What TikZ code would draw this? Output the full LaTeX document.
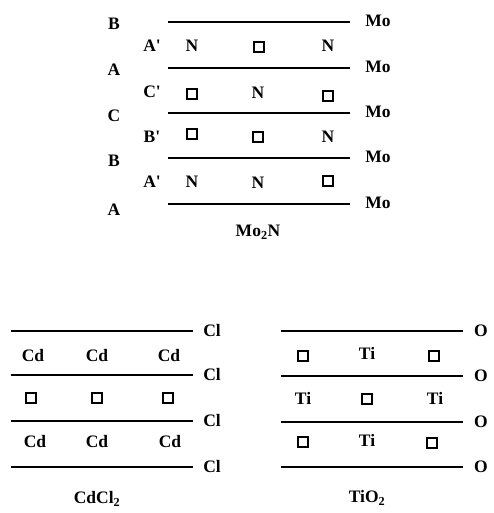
\documentclass[tikz,border=0pt]{standalone}
\usepackage{fontspec}
\setmainfont{Liberation Serif}
\newcommand{\pr}{\textquotesingle}
\begin{document}
\begin{tikzpicture}[x=1pt,y=-1pt,
  lbl/.style={font=\fontsize{17.5}{19}\selectfont\bfseries, inner sep=0pt, anchor=center},
  vac/.style={draw, line width=2pt, minimum size=10.5pt, inner sep=0pt},
  layer/.style={line width=2pt}]
\useasboundingbox (0,0) rectangle (493,513);
% ---------- Mo2N ----------
\foreach \y/\n in {22/1,68/2,113/3,158/4,204/5}{
  \coordinate (ma\n) at (168,\y);
  \coordinate (mb\n) at (350,\y);
  \draw[layer] (ma\n) -- (mb\n);
  \node[lbl] (mo\n) at (378,\y-1) {Mo};
}
\node[lbl] (s1) at (114,24) {B};
\node[lbl] (s2) at (114,70) {A};
\node[lbl] (s3) at (114,116) {C};
\node[lbl] (s4) at (114,161) {B};
\node[lbl] (s5) at (114,210) {A};
\node[lbl] (p1) at (152,46) {A\pr};
\node[lbl] (p2) at (152,92) {C\pr};
\node[lbl] (p3) at (152,137) {B\pr};
\node[lbl] (p4) at (152,182) {A\pr};
% row 1
\node[lbl] (r11) at (192,46) {N};
\node[vac] (r12) at (259,47) {};
\node[lbl] (r13) at (328,46) {N};
% row 2
\node[vac] (r21) at (192,94) {};
\node[lbl] (r22) at (258,93) {N};
\node[vac] (r23) at (328,96) {};
% row 3
\node[vac] (r31) at (192,134) {};
\node[vac] (r32) at (258,137) {};
\node[lbl] (r33) at (328,137) {N};
% row 4
\node[lbl] (r41) at (192,182) {N};
\node[lbl] (r42) at (258,183) {N};
\node[vac] (r43) at (328,181) {};
\node[lbl] (t1) at (258,232) {Mo\textsubscript{2}N};
% ---------- CdCl2 ----------
\foreach \y/\n in {331/1,375/2,421/3,467/4}{
  \coordinate (ca\n) at (11,\y);
  \coordinate (cb\n) at (193,\y);
  \draw[layer] (ca\n) -- (cb\n);
  \node[lbl] (cl\n) at (212,\y) {Cl};
}
\node[lbl] (c11) at (33,356) {Cd};
\node[lbl] (c12) at (97,356) {Cd};
\node[lbl] (c13) at (169,356) {Cd};
\node[vac] (c21) at (31,398) {};
\node[vac] (c22) at (97,398) {};
\node[vac] (c23) at (168,398) {};
\node[lbl] (c31) at (35,442) {Cd};
\node[lbl] (c32) at (97,442) {Cd};
\node[lbl] (c33) at (170,442) {Cd};
\node[lbl] (t2) at (97,499) {CdCl\textsubscript{2}};
% ---------- TiO2 ----------
\foreach \y/\n in {331/1,376/2,422/3,467/4}{
  \coordinate (ta\n) at (281,\y);
  \coordinate (tb\n) at (463,\y);
  \draw[layer] (ta\n) -- (tb\n);
  \node[lbl] (o\n) at (481,\y) {O};
}
\node[vac] (d11) at (303,356) {};
\node[lbl] (d12) at (367,353) {Ti};
\node[vac] (d13) at (434,356) {};
\node[lbl] (d21) at (303,398) {Ti};
\node[vac] (d22) at (367,399) {};
\node[lbl] (d23) at (435,398) {Ti};
\node[vac] (d31) at (303,442) {};
\node[lbl] (d32) at (367,440) {Ti};
\node[vac] (d33) at (432,443) {};
\node[lbl] (t3) at (367,498) {TiO\textsubscript{2}};
\end{tikzpicture}
\end{document}
